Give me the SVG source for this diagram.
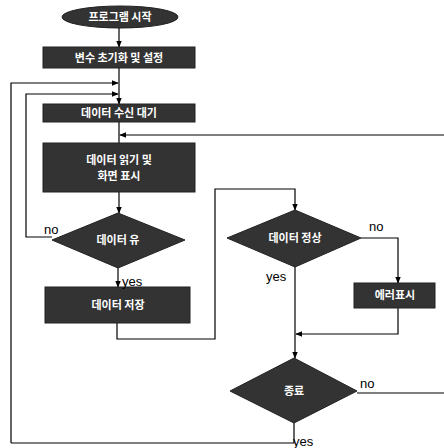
<svg xmlns="http://www.w3.org/2000/svg" width="444" height="448" viewBox="0 0 444 448">
<defs>
<style>
.n{fill:#333;stroke:#222;stroke-width:1}
.t{fill:#fff;font-family:"Noto Sans CJK KR","Noto Sans",sans-serif;font-size:11px;font-weight:bold;text-anchor:middle}
.c{fill:none;stroke:#000;stroke-width:1.2}
.l{fill:#000;font-family:"Liberation Sans",Arial,sans-serif;font-size:13px}
</style>
<marker id="a" viewBox="0 0 10 10" refX="9" refY="5" markerWidth="6" markerHeight="6" orient="auto"><path d="M0,1 L10,5 L0,9 z" fill="#000"/></marker>
</defs>
<rect width="444" height="448" fill="#fff"/>
<g id="connectors">
<path class="c" d="M119,28 V47" marker-end="url(#a)"/>
<path class="c" d="M119,68 V104" marker-end="url(#a)"/>
<path class="c" d="M11,443 V83 H118" marker-end="url(#a)"/>
<path class="c" d="M52,237 H26 V94 H118" marker-end="url(#a)"/>
<path class="c" d="M444,135 H120" marker-end="url(#a)"/>
<path class="c" d="M119,122 V143"/>
<path class="c" d="M119,192 V213" marker-end="url(#a)"/>
<path class="c" d="M118,268 V287" marker-end="url(#a)"/>
<path class="c" d="M117,323 V339 H215 V189 H295 V210" marker-end="url(#a)"/>
<path class="c" d="M361,238 H398 V283" marker-end="url(#a)"/>
<path class="c" d="M398,308 V334 H296" marker-end="url(#a)"/>
<path class="c" d="M295,267 V358" marker-end="url(#a)"/>
<path class="c" d="M357,393 H444"/>
<path class="c" d="M294,423 V443 H11"/>
</g>
<g id="start"><ellipse class="n" cx="120" cy="17" rx="58" ry="11"/><text class="t" x="120" y="21">프로그램 시작</text></g>
<g id="init"><rect class="n" x="43" y="47" width="152" height="21"/><text class="t" x="119" y="62">변수 초기화 및 설정</text></g>
<g id="wait"><rect class="n" x="43" y="104" width="152" height="18"/><text class="t" x="119" y="117">데이터 수신 대기</text></g>
<g id="read"><rect class="n" x="43" y="143" width="152" height="49"/><text class="t" x="119" y="164">데이터 읽기 및</text><text class="t" x="119" y="180">화면 표시</text></g>
<g id="dec1"><polygon class="n" points="118,213 185,240 118,268 52,240"/><text class="t" x="118" y="244">데이터 유</text></g>
<g id="save"><rect class="n" x="45" y="287" width="145" height="36"/><text class="t" x="118" y="309">데이터 저장</text></g>
<g id="dec2"><polygon class="n" points="295,210 361,238 295,267 227,238"/><text class="t" x="295" y="242">데이터 정상</text></g>
<g id="error"><rect class="n" x="354" y="283" width="81" height="25"/><text class="t" x="395" y="299">에러표시</text></g>
<g id="dec3"><polygon class="n" points="294,358 357,391 294,423 230,391"/><text class="t" x="294" y="395">종료</text></g>
<g id="labels">
<text class="l" x="44" y="234">no</text>
<text class="l" x="122" y="286">yes</text>
<text class="l" x="369" y="231">no</text>
<text class="l" x="266" y="281">yes</text>
<text class="l" x="360" y="388">no</text>
<text class="l" x="293" y="446">yes</text>
</g>
</svg>
